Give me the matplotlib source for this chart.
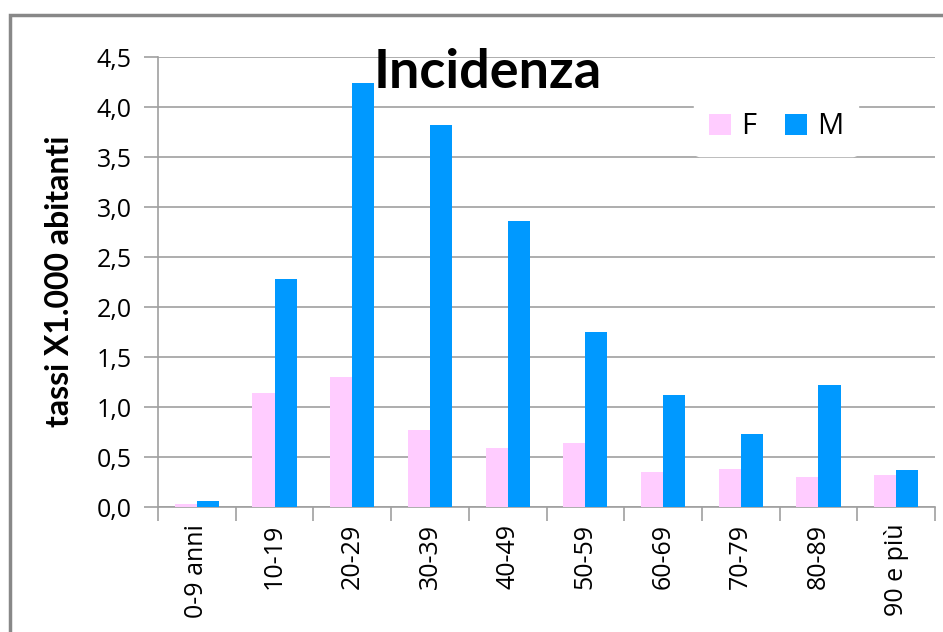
import matplotlib.pyplot as plt
import numpy as np
from matplotlib.patches import Rectangle

# age classes and incidence rates (per 1,000 inhabitants)
age_classes = ["0-9 anni", "10-19", "20-29", "30-39", "40-49",
               "50-59", "60-69", "70-79", "80-89", "90 e più"]
rate_f = [0.03, 1.14, 1.30, 0.77, 0.59, 0.64, 0.35, 0.38, 0.30, 0.32]
rate_m = [0.06, 2.28, 4.24, 3.82, 2.86, 1.75, 1.12, 0.73, 1.22, 0.37]
y_ticks = [0.0, 0.5, 1.0, 1.5, 2.0, 2.5, 3.0, 3.5, 4.0, 4.5]

col_f = '#FFCCFF'
col_m = '#0099FF'
grid_col = '#A0A0A0'

plt.rcParams['font.family'] = ['Open Sans', 'DejaVu Sans']

fig = plt.figure(figsize=(9.43, 6.32), dpi=100)
fig.patches.append(Rectangle((10 / 943, -0.1), 1.2, 1 - 15 / 632 + 0.1,
                             transform=fig.transFigure, fill=False,
                             edgecolor='#888888', linewidth=2.5))

ax = fig.add_axes([158 / 943, 125 / 632, 777 / 943, 450 / 632])
x = np.arange(len(age_classes))
w = 0.285
ax.bar(x - w / 2, rate_f, w, color=col_f, label='F', zorder=3)
ax.bar(x + w / 2, rate_m, w, color=col_m, label='M', zorder=3)

ax.set_xlim(-0.5, len(age_classes) - 0.5)
ax.set_ylim(0, 4.5)
ax.set_yticks(y_ticks)
ax.set_yticklabels([f"{v:.1f}".replace('.', ',') for v in y_ticks], fontsize=18)
ax.yaxis.grid(True, color=grid_col, linewidth=1.2, zorder=0)
ax.set_axisbelow(True)

ax.set_xticks(np.arange(-0.5, len(age_classes), 1.0))
ax.set_xticklabels([])
ax.set_xticks(x, minor=True)
ax.set_xticklabels(age_classes, minor=True, rotation=90, fontsize=18)
ax.tick_params(axis='x', which='major', length=10, color=grid_col, width=1.2)
ax.tick_params(axis='x', which='minor', length=0, pad=12)
ax.tick_params(axis='y', length=10, color=grid_col, width=1.2, pad=9)

for s in ['top', 'right']:
    ax.spines[s].set_visible(False)
ax.spines['left'].set_color(grid_col)
ax.spines['bottom'].set_color(grid_col)
ax.spines['left'].set_linewidth(1.2)
ax.spines['bottom'].set_linewidth(1.2)

ax.set_ylabel('tassi X1.000 abitanti', fontsize=23, fontweight='bold',
              family=['Lato', 'DejaVu Sans'])
ax.yaxis.set_label_coords(74 / 943, 1 - 281 / 632, transform=fig.transFigure)

fig.text(488 / 943, 1 - 72 / 632, 'Incidenza', fontsize=39, fontweight='bold',
         family=['Lato', 'DejaVu Sans'], ha='center', va='center')

leg = ax.legend(loc='center', bbox_to_anchor=(776 / 943, 1 - 127 / 632),
                bbox_transform=fig.transFigure, ncol=2, frameon=True,
                fontsize=21, handlelength=0.75, handleheight=0.75,
                handletextpad=0.35, columnspacing=1.0, borderpad=0.5)
leg.get_frame().set_edgecolor('white')
leg.get_frame().set_facecolor('white')
leg.get_frame().set_alpha(1)

plt.savefig('out.png', dpi=100)
